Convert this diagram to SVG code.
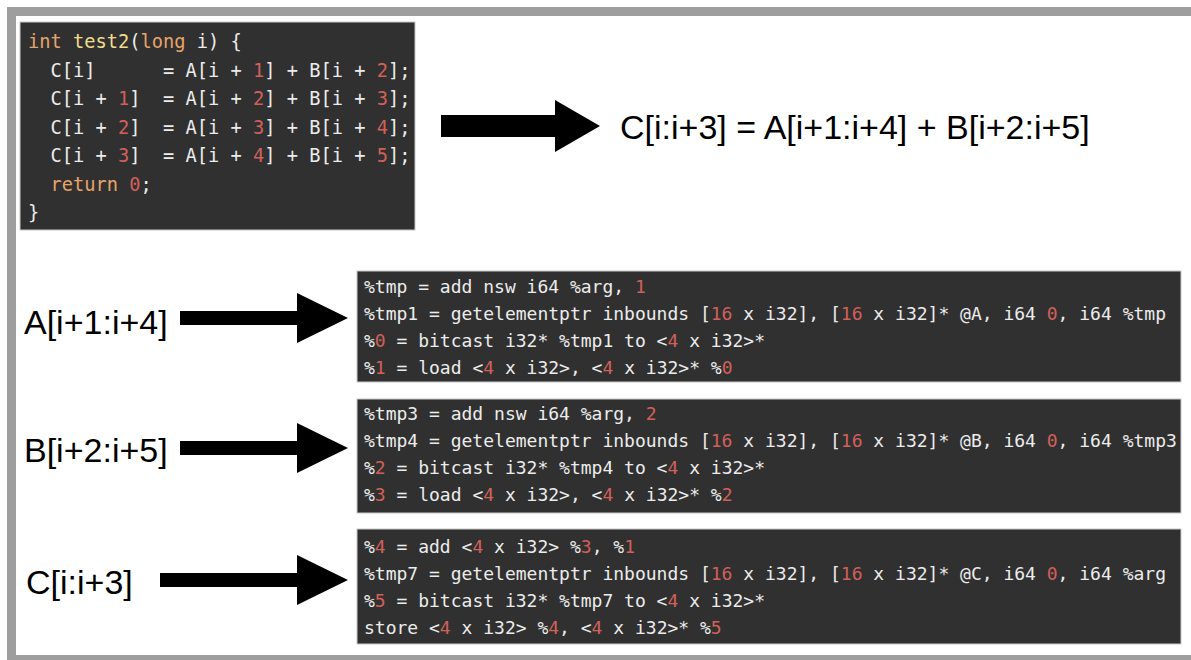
<svg xmlns="http://www.w3.org/2000/svg" width="1191" height="660" viewBox="0 0 1191 660">
  <style>
    .frame { fill: none; stroke: #9e9e9e; stroke-width: 9; }
    .panel { fill: #303030; stroke: #c8c8c8; stroke-width: 1; }
    .code { font-family: "DejaVu Sans Mono", "Liberation Mono", monospace; font-size: 18.7px; fill: #ececec; white-space: pre; }
    .ir { font-family: "DejaVu Sans Mono", "Liberation Mono", monospace; font-size: 18px; fill: #ececec; white-space: pre; }
    .n { fill: #d2605a; }
    .kw { fill: #e6a46a; }
    .fn { fill: #f0dc8c; }
    .label { font-family: "Liberation Sans", Arial, sans-serif; font-size: 34px; fill: #000; }
    .arrow { fill: #000; }
  </style>

  <!-- outer frame -->
  <rect class="frame" x="11.5" y="11.5" width="1200" height="648"/>

  <!-- scalar C source -->
  <g id="source-code">
    <rect class="panel" x="20" y="22" width="395" height="208"/>
    <text class="code" x="28" y="48"><tspan class="kw">int</tspan> <tspan class="fn">test2</tspan>(<tspan class="kw">long</tspan> i) {</text>
    <text class="code" x="28" y="76.5">  C[i]      = A[i + <tspan class="n">1</tspan>] + B[i + <tspan class="n">2</tspan>];</text>
    <text class="code" x="28" y="105">  C[i + <tspan class="n">1</tspan>]  = A[i + <tspan class="n">2</tspan>] + B[i + <tspan class="n">3</tspan>];</text>
    <text class="code" x="28" y="133.5">  C[i + <tspan class="n">2</tspan>]  = A[i + <tspan class="n">3</tspan>] + B[i + <tspan class="n">4</tspan>];</text>
    <text class="code" x="28" y="162">  C[i + <tspan class="n">3</tspan>]  = A[i + <tspan class="n">4</tspan>] + B[i + <tspan class="n">5</tspan>];</text>
    <text class="code" x="28" y="190.5">  <tspan class="kw">return</tspan> <tspan class="n">0</tspan>;</text>
    <text class="code" x="28" y="219">}</text>
  </g>

  <!-- vector expression -->
  <g id="vector-expr">
    <text class="label" x="620" y="139">C[i:i+3] = A[i+1:i+4] + B[i+2:i+5]</text>
  </g>

  <!-- slice labels -->
  <g id="label-A">
    <text class="label" x="24" y="334">A[i+1:i+4]</text>
  </g>
  <g id="label-B">
    <text class="label" x="24" y="462">B[i+2:i+5]</text>
  </g>
  <g id="label-C">
    <text class="label" x="26" y="594">C[i:i+3]</text>
  </g>

  <!-- IR for loading A slice -->
  <g id="ir-A">
    <rect class="panel" x="357" y="271" width="824" height="111"/>
    <text class="ir" x="364" y="293">%tmp = add nsw i64 %arg, <tspan class="n">1</tspan></text>
    <text class="ir" x="364" y="320">%tmp1 = getelementptr inbounds [<tspan class="n">16</tspan> x i32], [<tspan class="n">16</tspan> x i32]* @A, i64 <tspan class="n">0</tspan>, i64 %tmp</text>
    <text class="ir" x="364" y="347">%<tspan class="n">0</tspan> = bitcast i32* %tmp1 to &lt;<tspan class="n">4</tspan> x i32&gt;*</text>
    <text class="ir" x="364" y="374">%<tspan class="n">1</tspan> = load &lt;<tspan class="n">4</tspan> x i32&gt;, &lt;<tspan class="n">4</tspan> x i32&gt;* %<tspan class="n">0</tspan></text>
  </g>

  <!-- IR for loading B slice -->
  <g id="ir-B">
    <rect class="panel" x="357" y="399" width="824" height="114"/>
    <text class="ir" x="364" y="420">%tmp3 = add nsw i64 %arg, <tspan class="n">2</tspan></text>
    <text class="ir" x="364" y="447">%tmp4 = getelementptr inbounds [<tspan class="n">16</tspan> x i32], [<tspan class="n">16</tspan> x i32]* @B, i64 <tspan class="n">0</tspan>, i64 %tmp3</text>
    <text class="ir" x="364" y="474">%<tspan class="n">2</tspan> = bitcast i32* %tmp4 to &lt;<tspan class="n">4</tspan> x i32&gt;*</text>
    <text class="ir" x="364" y="501">%<tspan class="n">3</tspan> = load &lt;<tspan class="n">4</tspan> x i32&gt;, &lt;<tspan class="n">4</tspan> x i32&gt;* %<tspan class="n">2</tspan></text>
  </g>

  <!-- IR for add and store into C slice -->
  <g id="ir-C">
    <rect class="panel" x="357" y="529" width="824" height="115"/>
    <text class="ir" x="364" y="553">%<tspan class="n">4</tspan> = add &lt;<tspan class="n">4</tspan> x i32&gt; %<tspan class="n">3</tspan>, %<tspan class="n">1</tspan></text>
    <text class="ir" x="364" y="580">%tmp7 = getelementptr inbounds [<tspan class="n">16</tspan> x i32], [<tspan class="n">16</tspan> x i32]* @C, i64 <tspan class="n">0</tspan>, i64 %arg</text>
    <text class="ir" x="364" y="607">%<tspan class="n">5</tspan> = bitcast i32* %tmp7 to &lt;<tspan class="n">4</tspan> x i32&gt;*</text>
    <text class="ir" x="364" y="634">store &lt;<tspan class="n">4</tspan> x i32&gt; %<tspan class="n">4</tspan>, &lt;<tspan class="n">4</tspan> x i32&gt;* %<tspan class="n">5</tspan></text>
  </g>

  <!-- block arrows -->
  <g id="connectors">
    <polygon class="arrow" points="441,115 555,115 555,100 600,126 555,152 555,137 441,137"/>
    <polygon class="arrow" points="180,311 297,311 297,293 348,318 297,343 297,325 180,325"/>
    <polygon class="arrow" points="180,441 297,441 297,423 348,448 297,473 297,455 180,455"/>
    <polygon class="arrow" points="160,573 297,573 297,555 348,580 297,605 297,587 160,587"/>
  </g>
</svg>
